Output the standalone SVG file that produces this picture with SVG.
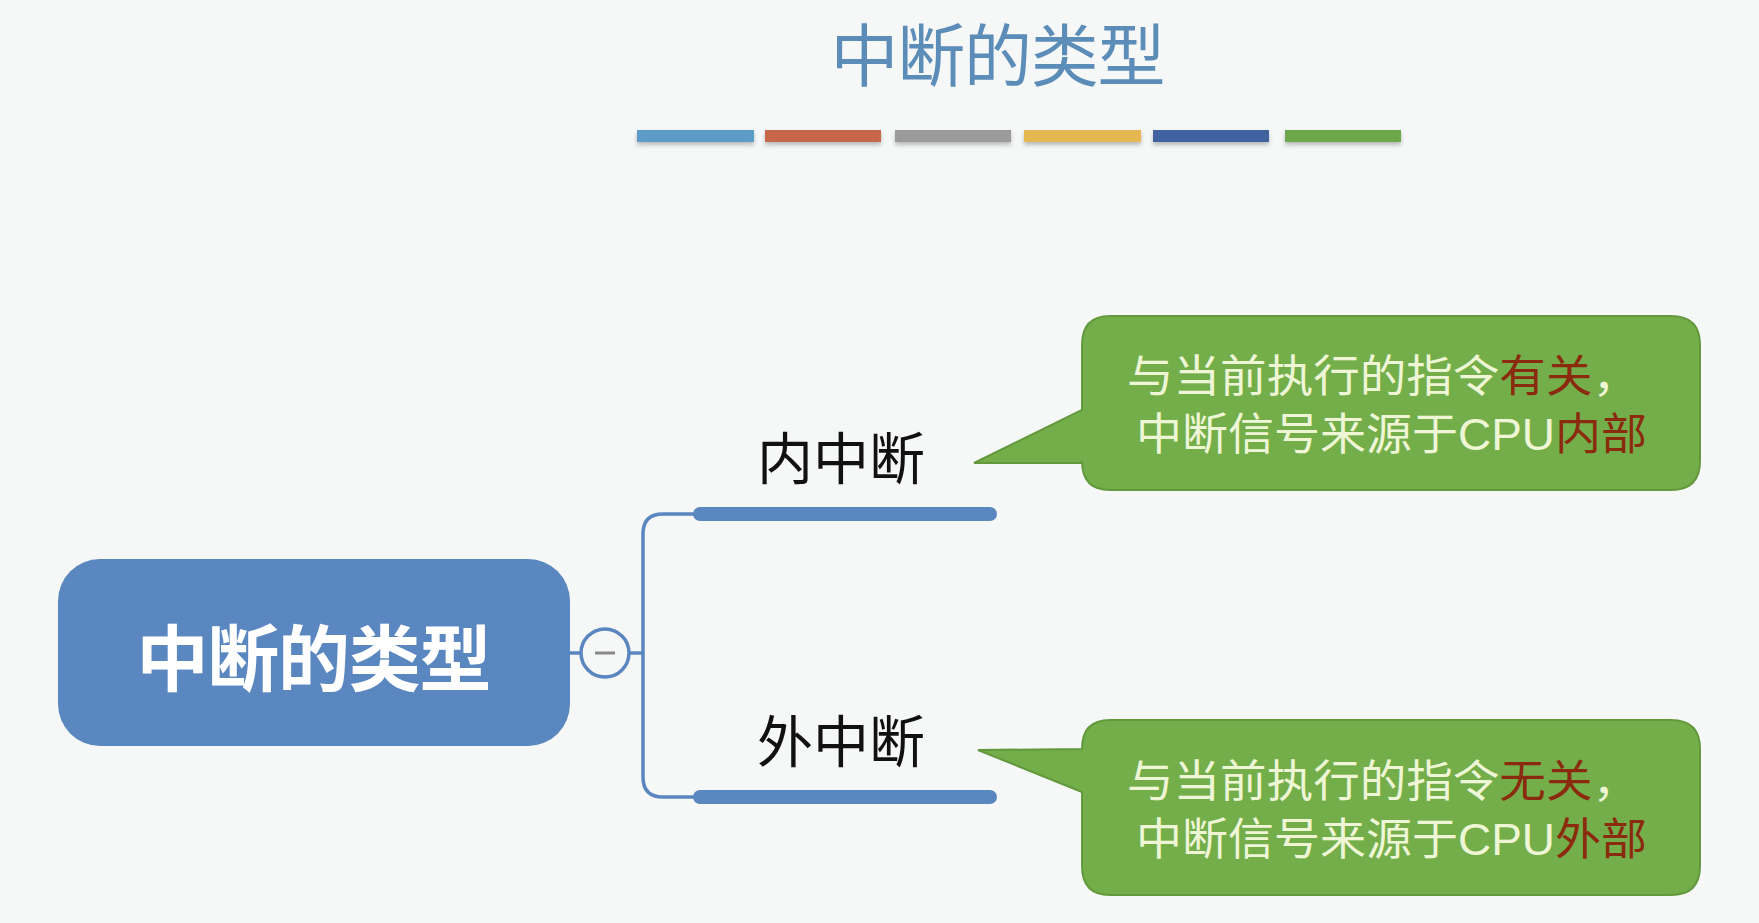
<svg xmlns="http://www.w3.org/2000/svg" width="1759" height="923" viewBox="0 0 1759 923">
<style>
text{font-family:"Liberation Sans","Noto Sans CJK SC",sans-serif;}
.title{font-size:68px;fill:#5b8db8;}
.bar{height:12px;}
.label{font-size:56px;fill:#111;}
.root{font-size:72px;font-weight:bold;fill:#ffffff;}
.callout{fill:#74ae4a;stroke:#63993d;stroke-width:2;}
.ct{font-size:44px;fill:#eef6d6;}
.hl{fill:#8a2a0e;}
.thin{fill:none;stroke:#5b87c0;stroke-width:3.5;}
.thick{stroke:#5b87c0;stroke-width:14;stroke-linecap:round;}
</style>
<defs>
<filter id="sh" x="-10%" y="-50%" width="120%" height="250%">
<feDropShadow dx="0" dy="3" stdDeviation="2" flood-color="#000" flood-opacity="0.25"/>
</filter>
</defs>
<rect width="1759" height="923" fill="#f6f7f7"/>
<g id="title">
<text class="title" x="998" y="81" text-anchor="middle" textLength="335">中断的类型</text>
<g filter="url(#sh)">
<rect x="637" y="130" width="117" height="12" fill="#5c9cc6"/>
<rect x="765" y="130" width="116" height="12" fill="#c8664a"/>
<rect x="895" y="130" width="116" height="12" fill="#9b9b9b"/>
<rect x="1024" y="130" width="117" height="12" fill="#e5b853"/>
<rect x="1153" y="130" width="116" height="12" fill="#40629f"/>
<rect x="1285" y="130" width="116" height="12" fill="#6ca84c"/>
</g>
</g>
<g id="connectors">
<line class="thin" x1="570" y1="653" x2="580" y2="653"/>
<line class="thin" x1="630" y1="653" x2="643" y2="653"/>
<path class="thin" d="M700 514 H663 Q643 514 643 534 V777 Q643 797 663 797 H700"/>
<line class="thick" x1="700" y1="514" x2="990" y2="514"/>
<line class="thick" x1="700" y1="797" x2="990" y2="797"/>
</g>
<g id="root">
<rect x="58" y="559" width="512" height="187" rx="42" fill="#5b87c0"/>
<text class="root" x="314" y="685" text-anchor="middle" textLength="355">中断的类型</text>
</g>
<g id="collapse">
<circle cx="605" cy="653" r="24" fill="#f6f7f7" stroke="#5b87c0" stroke-width="3.5"/>
<line x1="595" y1="653" x2="615" y2="653" stroke="#888" stroke-width="3"/>
</g>
<g id="internal">
<text class="label" x="841" y="479" text-anchor="middle">内中断</text>
</g>
<g id="external">
<text class="label" x="841" y="762" text-anchor="middle">外中断</text>
</g>
<g id="callout-internal">
<path class="callout" d="M1110 316 H1671 Q1700 316 1700 345 V461 Q1700 490 1671 490 H1110 Q1082 490 1082 461 V463 H974 L1082 410 V345 Q1082 316 1110 316 Z"/>
<text class="ct" x="1127" y="392" textLength="512" lengthAdjust="spacingAndGlyphs">与当前执行的指令<tspan class="hl">有关</tspan>，</text>
<text class="ct" x="1136" y="450" textLength="511" lengthAdjust="spacingAndGlyphs">中断信号来源于CPU<tspan class="hl">内部</tspan></text>
</g>
<g id="callout-external">
<path class="callout" d="M1110 720 H1671 Q1700 720 1700 749 V866 Q1700 895 1671 895 H1110 Q1082 895 1082 866 V792 L978 750 L1082 749 Q1082 720 1110 720 Z"/>
<text class="ct" x="1127" y="797" textLength="512" lengthAdjust="spacingAndGlyphs">与当前执行的指令<tspan class="hl">无关</tspan>，</text>
<text class="ct" x="1136" y="855" textLength="511" lengthAdjust="spacingAndGlyphs">中断信号来源于CPU<tspan class="hl">外部</tspan></text>
</g>
</svg>
